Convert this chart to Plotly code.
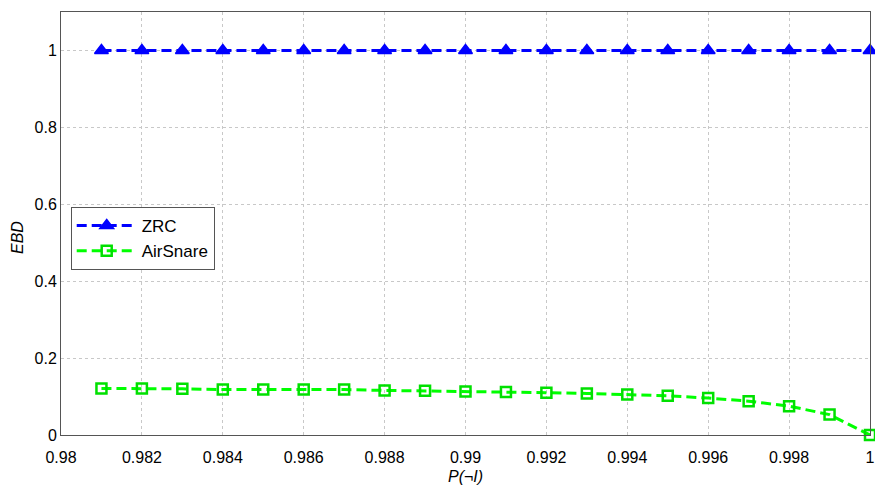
import plotly.graph_objects as go

x_vals = [0.981, 0.982, 0.983, 0.984, 0.985, 0.986, 0.987, 0.988, 0.989, 0.990,
          0.991, 0.992, 0.993, 0.994, 0.995, 0.996, 0.997, 0.998, 0.999, 1.000]
zrc = [1.0] * 20
airsnare = [0.121, 0.121, 0.120, 0.118, 0.118, 0.118, 0.118, 0.116, 0.115, 0.113,
            0.112, 0.110, 0.108, 0.105, 0.102, 0.096, 0.088, 0.075, 0.053, 0.0]
x_ticks = [0.98, 0.982, 0.984, 0.986, 0.988, 0.99, 0.992, 0.994, 0.996, 0.998, 1.0]
x_tick_text = ["0.98", "0.982", "0.984", "0.986", "0.988", "0.99", "0.992", "0.994", "0.996", "0.998", "1"]
y_ticks = [0, 0.2, 0.4, 0.6, 0.8, 1.0]
y_tick_text = ["0", "0.2", "0.4", "0.6", "0.8", "1"]

FONT = "Liberation Sans, Arial"

fig = go.Figure()
fig.add_trace(go.Scatter(
    x=x_vals, y=zrc, name="ZRC", mode="lines+markers",
    line=dict(color="#0000ff", width=3, dash="10px,5px"),
    marker=dict(symbol="triangle-up", size=12, color="#0000ff",
                line=dict(color="#0000ff", width=1.5)),
    cliponaxis=False,
))
fig.add_trace(go.Scatter(
    x=x_vals, y=airsnare, name="AirSnare", mode="lines+markers",
    line=dict(color="#00ff00", width=3, dash="10px,5px"),
    marker=dict(symbol="square-open", size=10, color="#00e000",
                line=dict(color="#00e000", width=2.5)),
    cliponaxis=False,
))

axis_common = dict(
    showline=True, linecolor="#555555", linewidth=1, mirror=True,
    showgrid=True, gridcolor="#c8c8c8", griddash="dot", gridwidth=1,
    ticks="", zeroline=False, automargin=False,
    tickfont=dict(family=FONT, size=16, color="#000000"),
)

fig.update_xaxes(
    range=[0.98, 1.0], tickvals=x_ticks, ticktext=x_tick_text,
    ticklabelstandoff=8,
    **axis_common,
)
fig.update_yaxes(
    range=[0, 1.1], tickvals=y_ticks, ticktext=y_tick_text,
    **axis_common,
)

fig.add_annotation(
    text="<i>P(¬I)</i>", xref="paper", yref="paper",
    x=0.5, y=-0.098, xanchor="center", yanchor="middle",
    showarrow=False, font=dict(family=FONT, size=16, color="#000"),
)
fig.add_annotation(
    text="<i>EBD</i>", xref="paper", yref="paper", textangle=-90,
    x=-0.053, y=0.466, xanchor="center", yanchor="middle",
    showarrow=False, font=dict(family=FONT, size=16, color="#000"),
)

fig.update_layout(
    width=875, height=489,
    margin=dict(l=61, r=5, t=12, b=54),
    plot_bgcolor="white", paper_bgcolor="white",
    font=dict(family=FONT, size=16, color="#000"),
    legend=dict(
        x=0.012, y=0.4645, xanchor="left", yanchor="middle",
        bgcolor="white", bordercolor="#555555", borderwidth=1,
        font=dict(size=17), tracegroupgap=0, itemwidth=60,
    ),
    showlegend=True,
)

fig.write_html(
    "out.html",
    config={"displayModeBar": False},
    post_script="document.body.style.margin='0px';document.body.style.overflow='hidden';",
)
